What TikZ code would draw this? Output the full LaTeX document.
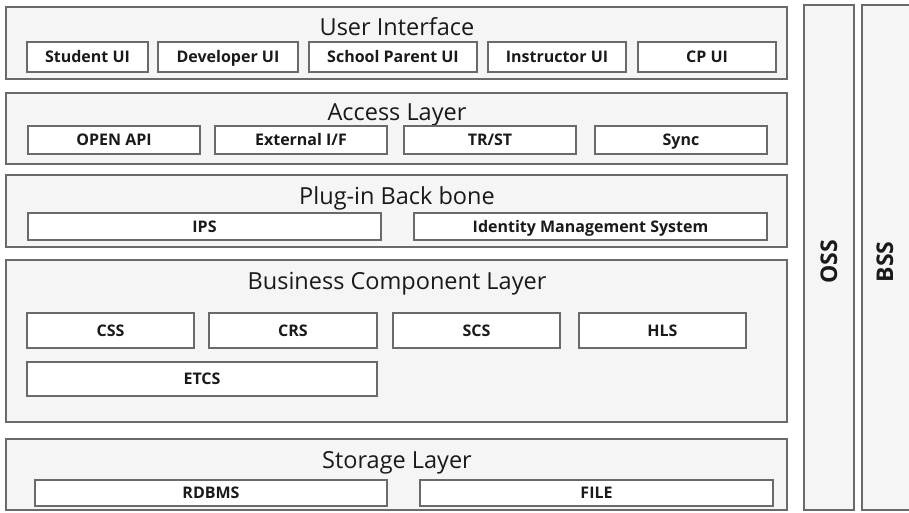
\documentclass[tikz,border=0pt]{standalone}
\usepackage{fontspec}
\setmainfont{Open Sans}
\definecolor{linegray}{HTML}{6A6A6A}
\definecolor{layerfill}{HTML}{F5F5F5}
\definecolor{txt}{HTML}{1A1A1A}
\tikzset{
  layerbox/.style={draw=linegray, fill=layerfill, line width=1.3pt, inner sep=0pt},
  compbox/.style={draw=linegray, fill=white, line width=1.1pt, inner sep=0pt,
    text height=11.2pt, text depth=0pt,
    font=\fontsize{16}{18}\selectfont\bfseries, text=txt},
  layertitle/.style={font=\fontsize{23.5}{26}\selectfont, text=txt, inner sep=0pt,
    text height=16.5pt, text depth=0pt},
  sidetitle/.style={font=\fontsize{23}{26}\selectfont\bfseries, text=txt, inner sep=0pt,
    text height=16pt, text depth=0pt, rotate=90}
}
% \pxbox[style]{name}{x1}{y1}{x2}{y2}{text}: box given by its pixel corners
\newcommand{\pxbox}[7][]{%
  \node[#1, minimum width={(#5-#3)*1pt}, minimum height={(#6-#4)*1pt}]
    (#2) at ({(#3+#5)/2},{(#4+#6)/2}) {#7};}
\begin{document}
\begin{tikzpicture}[x=1pt,y=-1pt]
\useasboundingbox (0,0) rectangle (909,512);

% User Interface
\pxbox[layerbox]{ui}{6}{7}{787}{79}{}
\node[layertitle] (uit) at (397,27) {User Interface};
\pxbox[compbox]{stu}{27}{42}{148}{72}{Student UI}
\pxbox[compbox]{dev}{158}{42}{298}{72}{Developer UI}
\pxbox[compbox]{spu}{309}{42}{477}{72}{School Parent UI}
\pxbox[compbox]{ins}{488}{42}{626}{72}{Instructor UI}
\pxbox[compbox]{cpu}{638}{42}{776}{72}{CP UI}

% Access Layer
\pxbox[layerbox]{acc}{6}{93}{787}{164}{}
\node[layertitle] (acct) at (397,112) {Access Layer};
\pxbox[compbox]{api}{28}{126}{200}{154}{OPEN API}
\pxbox[compbox]{ext}{215}{126}{387}{154}{External I/F}
\pxbox[compbox]{trst}{404}{126}{576}{154}{TR/ST}
\pxbox[compbox]{sync}{595}{126}{767}{154}{Sync}

% Plug-in Back bone
\pxbox[layerbox]{plug}{6}{175}{787}{247}{}
\node[layertitle] (plugt) at (397,196) {Plug-in Back bone};
\pxbox[compbox]{ips}{28}{213}{381}{240}{IPS}
\pxbox[compbox]{ims}{414}{213}{767}{240}{Identity Management System}

% Business Component Layer
\pxbox[layerbox]{biz}{6}{260}{787}{422}{}
\node[layertitle] (bizt) at (397,281) {Business Component Layer};
\pxbox[compbox]{css}{27}{313}{194}{348}{CSS}
\pxbox[compbox]{crs}{209}{313}{377}{348}{CRS}
\pxbox[compbox]{scs}{393}{313}{560}{348}{SCS}
\pxbox[compbox]{hls}{579}{313}{746}{348}{HLS}
\pxbox[compbox]{etcs}{27}{362}{377}{396}{ETCS}

% Storage Layer
\pxbox[layerbox]{sto}{6}{439}{787}{510}{}
\node[layertitle] (stot) at (397,460) {Storage Layer};
\pxbox[compbox]{rdb}{35}{480}{387}{506}{RDBMS}
\pxbox[compbox]{file}{420}{480}{773}{506}{FILE}

% Side columns
\pxbox[layerbox]{oss}{804}{5}{854}{510}{}
\node[sidetitle] (osst) at (829,262) {OSS};
\pxbox[layerbox]{bss}{862}{5}{912}{510}{}
\node[sidetitle] (bsst) at (885,262) {BSS};
\end{tikzpicture}
\end{document}
